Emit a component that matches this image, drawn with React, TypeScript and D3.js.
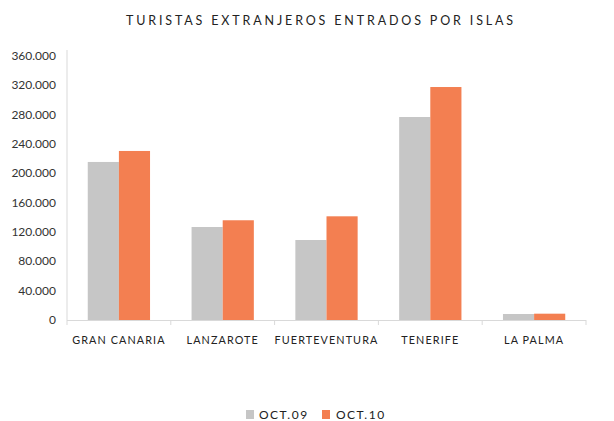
import React from "react";
import * as d3 from "d3";

const categories = ["GRAN CANARIA", "LANZAROTE", "FUERTEVENTURA", "TENERIFE", "LA PALMA"];
const seriesNames = ["OCT.09", "OCT.10"];
const oct09 = [215500, 126800, 109100, 276800, 8200];
const oct10 = [230500, 136000, 141400, 317700, 8600];
const yTicks = [0, 40000, 80000, 120000, 160000, 200000, 240000, 280000, 320000, 360000];
const colors = ["#C6C6C6", "#F37F51"];

const W = 614, H = 421;
const left = 67, right = 586, top = 56, bottom = 320;
const font = "Lato, 'Open Sans', sans-serif";

export default function App() {
  const x = d3.scaleBand<string>().domain(categories).range([left, right]).paddingInner(0.4).paddingOuter(0.2);
  const x1 = d3.scaleBand<string>().domain(seriesNames).range([0, x.bandwidth()]);
  const y = d3.scaleLinear().domain([0, 360000]).range([bottom, top]);
  const fmt = (v: number) => d3.format(",")(v).replace(/,/g, ".");
  const step = (right - left) / categories.length;
  const series = [oct09, oct10];
  return (
    <svg width={W} height={H} style={{ position: "absolute", left: 0, top: 0, background: "#fff" }}>
      <text x={321} y={25} textAnchor="middle" fontFamily={font} fontSize={12.5} letterSpacing={2.85} fill="#222">
        TURISTAS EXTRANJEROS ENTRADOS POR ISLAS
      </text>
      {yTicks.map((t) => (
        <text key={t} x={56} y={y(t) + 4} textAnchor="end" fontFamily={font} fontSize={12} fill="#333">
          {fmt(t)}
        </text>
      ))}
      {categories.map((c, i) =>
        series.map((s, j) => (
          <rect key={c + j} x={x(c)! + x1(seriesNames[j])!} y={y(s[i])} width={x1.bandwidth()} height={bottom - y(s[i])} fill={colors[j]} />
        ))
      )}
      <line x1={left} x2={left} y1={top - 6} y2={bottom} stroke="#D9D9D9" />
      <line x1={left} x2={right} y1={bottom + 0.5} y2={bottom + 0.5} stroke="#D9D9D9" />
      {d3.range(categories.length + 1).map((i) => (
        <line key={i} x1={left + i * step} x2={left + i * step} y1={bottom} y2={bottom + 5} stroke="#D9D9D9" />
      ))}
      {categories.map((c) => (
        <text key={c} x={x(c)! + x.bandwidth() / 2} y={344} textAnchor="middle" fontFamily={font} fontSize={10.8} letterSpacing={1.1} fill="#222">
          {c}
        </text>
      ))}
      {seriesNames.map((n, j) => (
        <g key={n}>
          <rect x={246 + j * 76} y={410} width={8} height={9} fill={colors[j]} />
          <text x={259 + j * 77} y={419} fontFamily={font} fontSize={12} letterSpacing={1.5} fill="#222">{n}</text>
        </g>
      ))}
    </svg>
  );
}
